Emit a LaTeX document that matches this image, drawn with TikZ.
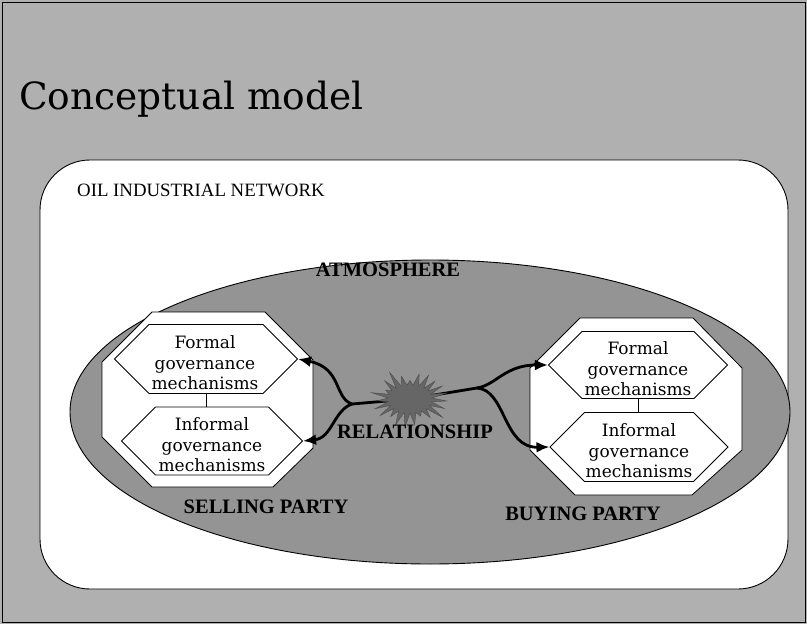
\documentclass[tikz,border=0pt]{standalone}
\usepackage{fontspec}
\setmainfont{Liberation Serif}
\newfontfamily\schfont{DejaVu Serif}
\usetikzlibrary{shapes.symbols,arrows.meta}

\pgfdeclarelayer{back}
\pgfdeclarelayer{mid}
\pgfsetlayers{back,mid,main}

\definecolor{slategray}{gray}{0.69}
\definecolor{atmogray}{gray}{0.58}

\tikzset{
  hexbox/.style={signal, signal to=east and west, signal pointer angle=90,
    draw=black, line width=0.8pt, fill=white, inner sep=0pt},
  hextext/.style={align=center, font=\schfont\fontsize{17}{20.5}\selectfont, inner sep=0pt},
  octbox/.style={draw=black, line width=0.8pt, fill=white},
  caplabel/.style={font=\bfseries\fontsize{20.5}{23}\selectfont, inner sep=0pt},
  link/.style={line width=2.8pt, -{Latex[length=13pt,width=11pt]}},
  stem/.style={line width=2.8pt},
  tie/.style={line width=0.8pt}
}

\begin{document}
\begin{tikzpicture}[x=1pt,y=-1pt]
\useasboundingbox (0,0) rectangle (807,624);

\begin{pgfonlayer}{back}
  % slide background and frame
  \fill[slategray] (0,0) rectangle (807,624);
  \draw[line width=1pt] (2,2) rectangle (805,622);
  % network panel
  \draw[fill=white, line width=0.9pt, rounded corners=50pt] (40,160) rectangle (788,589);
  % atmosphere
  \draw[fill=atmogray, line width=0.9pt] (430,412) ellipse [x radius=360pt, y radius=152pt];
  % selling party
  \draw[octbox] (152,312) -- (265,312) -- (313,360) -- (313,448) -- (273,487)
    -- (152,487) -- (102,437) -- (102,362) -- cycle;
  % buying party
  \draw[octbox] (580,318) -- (693,318) -- (742,368) -- (742,450) -- (692,495)
    -- (575,495) -- (530,450) -- (530,368) -- cycle;
\end{pgfonlayer}

% title
\node[anchor=base west, inner sep=0pt, font=\schfont\fontsize{37.5}{40}\selectfont] (title) at (19,109) {Conceptual model};
\node[anchor=base west, inner sep=0pt, font=\fontsize{18.8}{22}\selectfont] (net) at (77,196) {OIL INDUSTRIAL NETWORK};

% governance mechanisms, selling side
\node[hexbox, minimum width=183pt, minimum height=69pt] (fl) at (206,359) {};
\node[hexbox, minimum width=181pt, minimum height=68pt] (il) at (212,441) {};
\node[hextext] at (205,363) {Formal\\governance\\mechanisms};
\node[hextext] at (212,445) {Informal\\governance\\mechanisms};
\draw[tie] (fl.south) -- (fl.south |- il.north);

% governance mechanisms, buying side
\node[hexbox, minimum width=179pt, minimum height=67pt] (fr) at (638,365) {};
\node[hexbox, minimum width=178pt, minimum height=69pt] (ir) at (639,447) {};
\node[hextext] at (638,369) {Formal\\governance\\mechanisms};
\node[hextext] at (639,451) {Informal\\governance\\mechanisms};
\draw[tie] (fr.south) -- (fr.south |- ir.north);

% relationship
\node[starburst, starburst points=23, starburst point height=18pt, random starburst=23,
  fill=black!60, draw=black!70, line width=0.4pt, minimum width=80pt, minimum height=64pt] (rel) at (410,399) {};
\coordinate (jl) at (352,404);
\coordinate (jr) at (477,388);

\begin{pgfonlayer}{mid}
  \draw[stem] (rel.center) -- (jl);
  \draw[stem] (rel.center) -- (jr);
  \draw[link] (jl) .. controls (334,398) and (342,368) .. (fl.east);
  \draw[link] (jl) .. controls (334,410) and (332,438) .. (il.east);
  \draw[link] (jr) .. controls (496,385) and (505,365) .. (fr.west);
  \draw[link] (jr) .. controls (506,390) and (503,448) .. (ir.west);
\end{pgfonlayer}

% labels
\node[caplabel] (atmo) at (388,270) {ATMOSPHERE};
\node[caplabel] (rellab) at (415,432) {RELATIONSHIP};
\node[caplabel] (sell) at (266,507) {SELLING PARTY};
\node[caplabel] (buy) at (583,514) {BUYING PARTY};
\end{tikzpicture}
\end{document}
